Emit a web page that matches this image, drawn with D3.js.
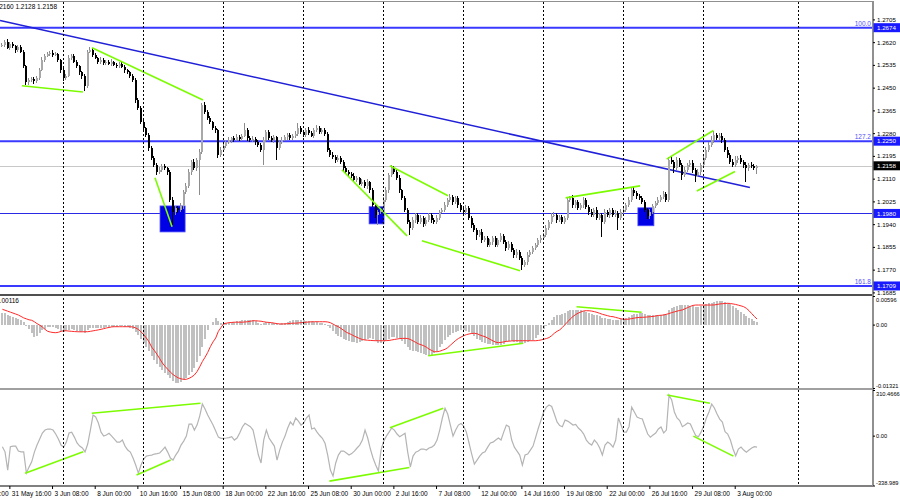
<!DOCTYPE html>
<html><head><meta charset="utf-8">
<script src="https://cdn.jsdelivr.net/npm/d3@7"></script>
<style>
body{margin:0;background:#fff}
svg{display:block}
text{font-family:"Liberation Sans",Arial,sans-serif}
</style>
</head><body>
<svg id="c" width="900" height="500"></svg>
<script>
// ---------------- DATA ----------------
// H4 close prices (x 10000); open of each bar = previous close
const closeP = [
12610,12621,12599,12614,12606,12591,12602,12584,12531,12472,
12479,12483,12475,12487,12516,12554,12569,12576,12580,12573,
12576,12554,12516,12487,12494,12561,12569,12546,12531,12509,
12494,12457,12584,12591,12573,12561,12546,12554,12543,12546,
12539,12546,12535,12531,12539,12528,12516,12509,12494,12479,
12404,12375,12322,12300,12274,12225,12188,12162,12135,12143,
12158,12150,12135,12031,11986,12001,11993,12008,12061,12083,
12135,12173,12150,12180,12210,12386,12360,12337,12322,12300,
12292,12199,12218,12233,12247,12255,12262,12255,12266,12259,
12270,12292,12262,12255,12259,12247,12236,12218,12255,12285,
12262,12255,12266,12225,12247,12255,12266,12274,12262,12270,
12277,12300,12285,12274,12292,12281,12270,12292,12300,12285,
12292,12277,12218,12199,12191,12180,12188,12173,12150,12135,
12128,12120,12106,12113,12091,12098,12083,12098,12068,12012,
11975,11986,11993,12031,12068,12124,12150,12135,12113,12068,
12038,11993,11949,11926,11956,11975,11949,11964,11941,11956,
11975,11956,11949,11964,11986,11993,12012,12031,12042,12023,
12038,12012,11993,11986,12001,11964,11937,11919,11900,11911,
11881,11889,11863,11874,11889,11863,11881,11896,11874,11851,
11866,11844,11825,11837,11814,11788,11799,11825,11837,11851,
11863,11881,11889,11900,11926,11949,11971,11975,11956,11967,
11949,11964,12031,12038,12012,12023,12001,12012,12031,12005,
11986,11975,11993,11964,11975,11949,11986,11975,11993,11975,
11982,11964,11986,11993,12012,12031,12068,12057,12046,12038,
12023,11993,11971,11986,12008,12020,12031,12042,12053,12031,
12180,12173,12150,12180,12162,12124,12143,12162,12169,12143,
12124,12135,12162,12188,12218,12236,12255,12274,12262,12270,
12255,12218,12199,12173,12162,12180,12188,12173,12162,12150,
12162,12158,12150,12158];
const firstOpen = 12606;
// upper / lower shadow length beyond the body (pips)
const wickUp = [
8,6,10,5,7,4,9,6,5,4, 6,8,5,7,6,10,5,8,6,9, 6,5,4,8,7,10,6,5,7,4, 5,6,8,12,6,7,5,9,6,8,
7,10,5,6,8,5,6,4,5,6, 8,6,5,7,4,6,8,5,6,10, 8,7,5,6,10,8,6,12,8,10, 12,8,10,7,9,7,12,8,6,5,
6,5,10,8,6,12,5,7,10,6, 8,26,6,7,9,5,8,6,10,8, 7,9,6,5,8,10,6,8,5,7, 10,18,8,6,9,12,7,6,10,8,
6,8,7,5,9,6,10,5,8,6, 8,6,10,7,5,9,6,12,5,6, 8,7,6,10,12,8,10,7,6,9, 5,7,6,8,10,7,6,9,8,10,
7,6,8,10,7,9,12,8,10,7, 9,6,8,7,10,6,5,8,6,7, 9,7,6,10,8,7,9,12,6,5, 10,6,7,9,5,6,8,10,7,9,
8,6,10,7,9,8,10,12,6,8, 9,7,10,8,12,6,9,7,10,8, 7,9,6,10,8,7,12,6,9,8, 10,7,9,6,8,10,12,9,7,8,
6,9,7,10,8,6,9,7,10,8, 10,14,8,12,9,7,10,8,12,9, 8,10,7,9,10,12,14,15,8,10, 9,7,10,8,12,14,8,10,6,9,
8,10,7,2];
const wickDn = [
6,8,5,9,7,10,6,5,8,12, 12,8,10,6,7,5,8,6,9,7, 6,8,10,12,7,6,8,5,9,10, 12,20,8,6,7,5,9,6,8,7,
6,8,5,9,7,6,10,8,7,9, 10,8,9,12,7,10,8,9,11,8, 10,8,12,9,49,10,12,8,10,7, 9,10,8,12,130,8,10,7,9,8,
10,12,8,6,9,7,10,8,6,9, 8,6,10,9,7,12,8,10,56,7, 9,8,10,45,7,9,6,10,8,7, 8,6,9,7,10,8,6,9,7,8,
9,7,10,8,6,12,9,7,10,8, 9,7,8,10,6,9,8,12,10,9, 12,38,8,7,9,10,8,7,9,12, 8,9,10,26,8,10,7,9,12,8,
9,10,8,7,10,6,9,8,7,10, 8,10,9,7,12,8,10,9,19,8, 10,8,9,7,12,8,10,9,8,10, 9,8,12,10,9,19,8,10,9,7,
9,8,10,7,9,8,10,6,12,9, 10,8,9,7,10,12,8,9,10,8, 12,9,8,10,7,56,9,8,12,10, 9,45,8,10,7,9,8,10,12,7,
9,8,11,10,7,9,8,10,9,10, 8,10,18,9,10,18,9,8,10,12, 26,9,10,8,7,9,8,10,9,8, 10,9,12,10,8,9,10,9,12,52,
10,8,9,22];
// MACD main (histogram) and signal, units of 0.00001
const macdMain = [
250,240,200,180,150,130,120,100,60,-20, -100,-180,-250,-240,-180,-120,-90,-60,-50,-60,
-70,-100,-130,-150,-140,-110,-100,-110,-130,-150, -160,-170,-120,-80,-70,-70,-80,-80,-70,-60,
-50,-40,-40,-40,-30,-30,-40,-60,-80,-100, -150,-220,-300,-380,-460,-560,-660,-740,-820,-880,
-950,-1010,-1060,-1120,-1170,-1210,-1220,-1190,-1150,-1110, -1060,-990,-900,-780,-650,-470,-300,-120,0,60,
130,80,40,20,30,40,50,60,70,80, 90,100,100,100,90,70,40,20,30,50,
40,30,30,10,20,30,40,60,80,90, 90,100,100,90,80,80,70,60,50,40,
30,20,-20,-80,-140,-190,-230,-260,-290,-320, -340,-360,-370,-380,-370,-350,-320,-290,-280,-300,
-350,-380,-390,-370,-340,-300,-260,-250,-270,-300, -350,-400,-460,-520,-540,-560,-580,-600,-610,-630,
-650,-640,-600,-540,-470,-400,-330,-260,-210,-180, -150,-130,-120,-120,-130,-160,-200,-240,-290,-330,
-360,-380,-400,-410,-420,-430,-430,-420,-400,-370, -350,-350,-360,-370,-380,-400,-380,-370,-350,-320,
-280,-220,-160,-90,-20,40,100,150,190,210, 220,240,280,300,300,310,300,300,290,270,
250,230,210,190,170,140,130,120,110,100, 90,100,110,120,130,150,190,220,230,240,
240,220,200,190,190,190,200,210,220,230, 300,340,360,390,400,410,400,400,390,380,
370,370,380,400,420,440,460,480,490,500, 500,480,450,420,390,350,300,260,220,180,
140,110,80,60];
const macdSignal = [
319,300,280,260,240,220,200,170,140,120, 100,90,60,20,-10,-50,-100,-140,-155,-165,
-169,-160,-140,-128,-130,-135,-140,-145,-148,-150, -150,-148,-148,-140,-130,-120,-110,-98,-85,-70,
-60,-48,-44,-44,-44,-44,-44,-44,-44,-50, -70,-100,-150,-210,-280,-360,-470,-540,-620,-710,
-800,-870,-930,-990,-1040,-1080,-1110,-1130,-1140,-1140, -1120,-1090,-1050,-980,-880,-770,-680,-580,-460,-360,
-280,-140,-60,20,30,40,45,50,50,50, 50,55,60,70,80,80,75,70,60,50,
45,40,30,20,15,13,15,20,25,30, 30,35,40,45,50,55,58,60,60,60,
60,60,55,40,10,-20,-44,-80,-120,-160, -185,-210,-240,-265,-290,-310,-321,-325,-330,-333,
-336,-336,-336,-336,-334,-330,-320,-310,-300,-292, -288,-286,-290,-310,-340,-370,-400,-420,-440,-470,
-510,-540,-565,-565,-555,-535,-515,-480,-430,-380, -330,-290,-260,-230,-210,-195,-185,-181,-190,-215,
-235,-252,-280,-310,-340,-365,-377,-370,-360,-350, -345,-340,-336,-336,-336,-336,-336,-336,-336,-336,
-336,-330,-320,-305,-290,-270,-230,-180,-140,-110, -60,0,60,120,170,210,240,265,285,290,
288,282,270,255,235,215,200,185,170,165, 150,135,120,112,110,115,125,135,145,150,
152,155,160,165,170,180,190,195,200,215, 230,250,265,280,295,305,330,355,380,400,
408,408,408,408,408,408,408,410,420,430, 435,440,444,440,430,420,405,390,373,340,
290,230,170,116];
// CCI
const cci = [
-75,-110,-234,-75,-71,-71,-105,-110,-110,-255, -214,-178,-112,-64,-23,18,38,45,45,38,
11,-23,-64,-78,-44,18,24,-10,-50,-71, -84,-110,-57,38,140,127,86,24,-3,4,
16,-3,-23,-44,-44,-30,-71,-98,-112,-152, -200,-255,-200,-159,-139,-135,-132,-125,-122,-118,
-98,-78,-112,-152,-166,-132,-105,-64,-37,-3, 79,79,38,72,133,215,181,140,106,72,
31,-10,-18,-18,-16,-13,-7,-30,-16,18, 59,84,72,61,38,-44,-132,-186,-30,38,
-16,-44,-71,-166,-98,-44,-3,52,93,72, 120,99,72,86,120,140,45,52,24,1,
-18,-52,-132,-234,-275,-186,-132,-105,-105,-118, -132,-122,-105,-84,-64,-30,38,-16,-91,-152,
-200,-241,-98,-37,-3,24,52,38,11,-7, 4,16,-112,-212,-139,-112,-105,-91,-91,-98,
-84,-78,-64,-30,38,120,186,147,72,-3, 38,72,82,65,24,-50,-125,-193,-166,-139,
-118,-110,-78,-50,-44,-30,-16,-30,24,72, 61,-30,-78,-105,-132,-200,-132,-125,-98,-71,
-10,52,106,161,194,208,198,147,93,69, 61,106,99,86,72,76,52,35,11,-30,
-52,-64,-30,-50,-84,-132,-64,-44,-57,-78, -30,120,72,24,24,61,194,161,127,118,
113,61,11,-10,4,18,45,59,18,38, 276,242,161,120,103,61,72,86,79,38,
1,-7,24,65,120,163,215,188,147,113, 93,27,11,-30,-91,-137,-91,-78,-98,-112,
-98,-84,-75,-78];

const timeLabels = ["27 May 00:00","31 May 16:00","3 Jun 08:00","8 Jun 00:00","10 Jun 16:00",
  "15 Jun 08:00","18 Jun 00:00","22 Jun 16:00","25 Jun 08:00","30 Jun 00:00","2 Jul 16:00",
  "7 Jul 08:00","12 Jul 00:00","14 Jul 16:00","19 Jul 08:00","22 Jul 00:00","26 Jul 16:00",
  "29 Jul 08:00","3 Aug 00:00"];
const timeLabelBars = [-13,3,19,35,51,67,83,99,115,131,147,163,179,195,211,227,243,259,275];
const gridBars = [23,53,83,113,143,173,203,233,263,298.7];
const priceTicks = [1.2705,1.2620,1.2535,1.2450,1.2365,1.2280,1.2195,1.2110,1.2025,1.1940,1.1855,1.1770,1.1685];
const fibLevels = [1.2674,1.2250,1.1709];
const fibNames = ["100.0","127.2","161.8"];
const supportLevel = 1.1980;
const lastPrice = 1.2158;
const header = "GBPUSD,H4  1.2150 1.2160 1.2128 1.2158";
// trend line [bar, price]
const trendLine = [[-0.5,1.2701],[280.7,1.2077]];
// green divergence lines on price [bar1, price1, bar2, price2]
const greenPrice = [
 [7.7,1.2457,30.6,1.2434],[34,1.2599,75.6,1.2404],[57.6,1.2113,64,1.1930],
 [127.7,1.2143,152.1,1.1896],[145.7,1.2158,167.5,1.2046],[157.7,1.1878,194.5,1.1766],
 [211.6,1.2038,239.5,1.2083],[249.5,1.2183,267,1.2290],[260.8,1.2064,275.1,1.2137]];
// blue boxes [bar1, bar2, priceTop, priceBottom]
const boxes = [[59.5,68.9,1.2008,1.1911],[137.9,143.5,1.2005,1.1941],[238.7,244.7,1.2001,1.1934]];
const greenMacd = [[160.1,-0.00648,195.7,-0.00390],[215.7,0.00373,240.1,0.00256]];
const greenCci = [[8.9,-256,30.7,-110],[33.9,152,74.7,220],[50.7,-268,63.5,-166],
 [123,-309,153,-216],[145.7,54,165.7,186],[249.7,276,265.7,220],[259.5,-3,274.5,-139]];
const macdTicks = [0.00596,0,-0.01321];
const macdTickText = ["0.00596","0.00","-0.01321"];
const cciTicks = [310.4666,0,-338.989];
const cciTickText = ["310.4666","0.00","-338.989"];

// ---------------- LAYOUT ----------------
const W = 873, FS = 6.5, AFS = 6.2, SFS = 5.7;
const svg = d3.select("#c");
const x = d3.scaleLinear().domain([0,300]).range([1.37,801.37]);
const yMain = d3.scaleLinear().domain([1.1679,1.2767]).range([294,2.8]);
const yMacd = d3.scaleLinear().domain([-0.01321,0.00596]).range([388,296]);
const yCci = d3.scaleLinear().domain([-338.989,310.4666]).range([485.5,390]);

const defs = svg.append("defs");
[["cm",2,292],["cd",296,92],["cc",390,95.5]].forEach(([id,y,h])=>{
  defs.append("clipPath").attr("id",id).append("rect").attr("x",0).attr("y",y).attr("width",W).attr("height",h);
});
const gMain = svg.append("g").attr("clip-path","url(#cm)");
const gMacd = svg.append("g").attr("clip-path","url(#cd)");
const gCci = svg.append("g").attr("clip-path","url(#cc)");

// grid (dotted vertical)
svg.append("g").selectAll("line").data(gridBars).join("line")
  .attr("x1",d=>Math.round(x(d))+0.5).attr("x2",d=>Math.round(x(d))+0.5)
  .attr("y1",2).attr("y2",486).attr("stroke","#000").attr("stroke-width",1)
  .attr("stroke-dasharray","2,2");

// horizontal level lines
gMain.append("line").attr("x1",0).attr("x2",W).attr("y1",Math.round(yMain(lastPrice))+0.5).attr("y2",Math.round(yMain(lastPrice))+0.5)
  .attr("stroke","#c8c8c8").attr("stroke-width",1);
gMain.append("line").attr("x1",0).attr("x2",W).attr("y1",Math.round(yMain(supportLevel))+0.5).attr("y2",Math.round(yMain(supportLevel))+0.5)
  .attr("stroke","#2a2ae6").attr("stroke-width",1.2);
gMain.selectAll("line.fib").data(fibLevels).join("line").attr("class","fib")
  .attr("x1",0).attr("x2",W).attr("y1",d=>yMain(d)).attr("y2",d=>yMain(d))
  .attr("stroke","#3a3aff").attr("stroke-width",2);
svg.selectAll("text.fibn").data(fibLevels).join("text").attr("class","fibn")
  .attr("x",871).attr("y",d=>yMain(d)-2).attr("text-anchor","end")
  .attr("font-size",FS).attr("fill","#5050ff").text((d,i)=>fibNames[i]);

// blue boxes
gMain.selectAll("rect.box").data(boxes).join("rect").attr("class","box")
  .attr("x",d=>x(d[0])).attr("width",d=>x(d[1])-x(d[0]))
  .attr("y",d=>yMain(d[2])).attr("height",d=>yMain(d[3])-yMain(d[2]))
  .attr("fill","#0000e6").attr("stroke","#4a4aff").attr("stroke-width",0.8);

// trend line
gMain.append("line").attr("x1",x(trendLine[0][0])).attr("y1",yMain(trendLine[0][1]))
  .attr("x2",x(trendLine[1][0])).attr("y2",yMain(trendLine[1][1]))
  .attr("stroke","#2020d8").attr("stroke-width",1.6);

// candles
const candles = closeP.map((c,i)=>{
  const o = i===0 ? firstOpen : closeP[i-1];
  return {i, o:o/1e4, c:c/1e4, h:(Math.max(o,c)+wickUp[i])/1e4, l:(Math.min(o,c)-wickDn[i])/1e4};
});
const gC = gMain.append("g").attr("shape-rendering","crispEdges");
gC.selectAll("rect.w").data(candles).join("rect").attr("class","w")
  .attr("x",d=>Math.round(x(d.i))).attr("width",1)
  .attr("y",d=>yMain(d.h)).attr("height",d=>Math.max(1,yMain(d.l)-yMain(d.h)))
  .attr("fill",d=>d.c>=d.o?"#8c8c8c":"#000");
gC.selectAll("rect.b").data(candles).join("rect").attr("class","b")
  .attr("x",d=>Math.round(x(d.i))-0.5).attr("width",2)
  .attr("y",d=>yMain(Math.max(d.o,d.c))).attr("height",d=>Math.max(1,Math.abs(yMain(d.o)-yMain(d.c))))
  .attr("fill",d=>d.c>=d.o?"#a8a8a8":"#000");

// green lines (price)
gMain.selectAll("line.g").data(greenPrice).join("line").attr("class","g")
  .attr("x1",d=>x(d[0])).attr("y1",d=>yMain(d[1])).attr("x2",d=>x(d[2])).attr("y2",d=>yMain(d[3]))
  .attr("stroke","#7cfc00").attr("stroke-width",1.6);

// MACD
gMacd.append("g").attr("shape-rendering","crispEdges").selectAll("rect").data(macdMain).join("rect")
  .attr("x",(d,i)=>Math.round(x(i))).attr("width",2)
  .attr("y",d=>Math.min(yMacd(d/1e5),yMacd(0))).attr("height",d=>Math.max(0.5,Math.abs(yMacd(d/1e5)-yMacd(0))))
  .attr("fill","#c0c0c0");
gMacd.append("path").datum(macdSignal)
  .attr("d",d3.line().x((d,i)=>x(i)+1).y(d=>yMacd(d/1e5)))
  .attr("fill","none").attr("stroke","#ff2a2a").attr("stroke-width",1);
gMacd.selectAll("line.g").data(greenMacd).join("line").attr("class","g")
  .attr("x1",d=>x(d[0])).attr("y1",d=>yMacd(d[1])).attr("x2",d=>x(d[2])).attr("y2",d=>yMacd(d[3]))
  .attr("stroke","#7cfc00").attr("stroke-width",1.6);
svg.append("text").attr("x",19).attr("y",302.5).attr("text-anchor","end").attr("font-size",FS)
  .text("MACD(12,26,9) 0.00116");

// CCI
gCci.append("path").datum(cci)
  .attr("d",d3.line().x((d,i)=>x(i)+1).y(d=>yCci(d)))
  .attr("fill","none").attr("stroke","#b4b4b4").attr("stroke-width",1.2);
gCci.selectAll("line.g").data(greenCci).join("line").attr("class","g")
  .attr("x1",d=>x(d[0])).attr("y1",d=>yCci(d[1])).attr("x2",d=>x(d[2])).attr("y2",d=>yCci(d[3]))
  .attr("stroke","#7cfc00").attr("stroke-width",1.6);

// frames
const fr = svg.append("g").attr("shape-rendering","crispEdges");
fr.append("rect").attr("x",0).attr("y",1).attr("width",W).attr("height",1).attr("fill","#909090");
fr.append("rect").attr("x",0).attr("y",294).attr("width",W).attr("height",2).attr("fill","#505050");
fr.append("rect").attr("x",0).attr("y",388).attr("width",W).attr("height",2).attr("fill","#a0a0a0");
fr.append("rect").attr("x",0).attr("y",485).attr("width",W).attr("height",1.5).attr("fill","#808080");
fr.append("rect").attr("x",W-1).attr("y",1).attr("width",1.5).attr("height",485).attr("fill","#909090");

// header
svg.append("text").attr("x",57).attr("y",9).attr("text-anchor","end").attr("font-size",FS).text(header);

// price axis
const ay = d3.axisRight(yMain).tickValues(priceTicks).tickFormat(d3.format(".4f")).tickSize(2).tickPadding(2);
const gAy = svg.append("g").attr("transform",`translate(${W},0)`).call(ay);
const styleAxis = (g,fs)=>{g.select(".domain").remove(); g.selectAll("text").attr("font-size",fs).attr("font-family","Liberation Sans, Arial"); g.selectAll("line").attr("stroke","#000");};
styleAxis(gAy,AFS);
// highlighted price labels
const tags = fibLevels.concat([supportLevel]).map(p=>({p,bg:"#1a1aff"})).concat([{p:lastPrice,bg:"#000"}]);
const gTag = svg.append("g");
gTag.selectAll("rect").data(tags).join("rect").attr("x",W+0.5).attr("width",26.5)
  .attr("y",d=>yMain(d.p)-4.5).attr("height",9).attr("fill",d=>d.bg);
gTag.selectAll("text").data(tags).join("text").attr("x",W+4).attr("y",d=>yMain(d.p)+2.3)
  .attr("font-size",AFS).attr("fill","#fff").text(d=>d3.format(".4f")(d.p));

// MACD axis
const gAm = svg.append("g").attr("transform",`translate(${W},0)`)
  .call(d3.axisRight(yMacd).tickValues(macdTicks).tickFormat((d,i)=>macdTickText[i]).tickSize(2).tickPadding(1));
styleAxis(gAm,SFS);
gAm.selectAll(".tick text").attr("dy",(d,i)=>i===0?"0.9em":(i===2?"-0.1em":"0.32em"));
const gAc = svg.append("g").attr("transform",`translate(${W},0)`)
  .call(d3.axisRight(yCci).tickValues(cciTicks).tickFormat((d,i)=>cciTickText[i]).tickSize(2).tickPadding(1));
styleAxis(gAc,SFS);
gAc.selectAll(".tick text").attr("dy",(d,i)=>i===0?"0.9em":(i===2?"-0.1em":"0.32em"));

// time axis
const ax = d3.axisBottom(x).tickValues(timeLabelBars).tickFormat((d,i)=>timeLabels[i]).tickSize(3).tickPadding(2);
const gAx = svg.append("g").attr("transform","translate(0,486)").call(ax);
styleAxis(gAx,FS);
gAx.selectAll(".tick text").attr("text-anchor","start").attr("dx",2);
</script>
</body></html>
